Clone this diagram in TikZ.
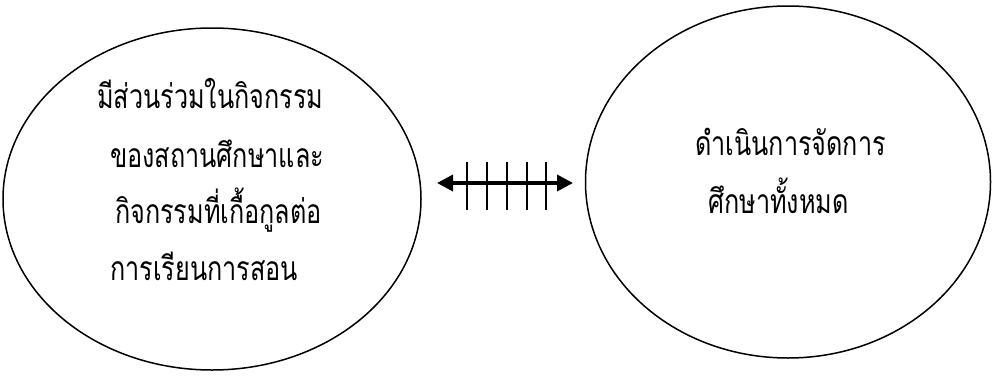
\documentclass[tikz,border=0pt]{standalone}
\usepackage{fontspec}
\newfontfamily\thaifont[Script=Thai]{Loma}
\usetikzlibrary{shapes.geometric,arrows.meta}
\newcommand{\thtxt}[1]{\scalebox{0.9}[1.2]{#1}}
\begin{document}
\begin{tikzpicture}[x=1pt,y=-1pt,
  bubble/.style={draw,ellipse,line width=1.5pt,inner sep=0pt},
  txt/.style={font=\thaifont\fontsize{28}{32}\selectfont,anchor=base west,inner sep=0pt},
  tickline/.style={line width=2pt},
  link/.style={line width=3.6pt,{Triangle[length=16pt,width=16pt]}-{Triangle[length=16pt,width=16pt]}}]
\useasboundingbox (0,0) rectangle (992,378);
\node[bubble,minimum width=418pt,minimum height=342pt] (L) at (212,199) {};
\node[bubble,minimum width=405pt,minimum height=352pt] (R) at (788,182) {};
\node[txt] (l1) at (97,108) {\thtxt{มีส่วนร่วมในกิจกรรม}};
\node[txt] (l2) at (110,167) {\thtxt{ของสถานศึกษาและ}};
\node[txt] (l3) at (115,223) {\thtxt{กิจกรรมที่เกื้อกูลต่อ}};
\node[txt] (l4) at (110,280) {\thtxt{การเรียนการสอน}};
\node[txt] (r1) at (695,155) {\thtxt{ดำเนินการจัดการ}};
\node[txt] (r2) at (708,213) {\thtxt{ศึกษาทั้งหมด}};
\coordinate (a1) at (437,183);
\coordinate (a2) at (573,183);
\draw[link] (a1) -- (a2);
\foreach \x in {467,487,507,527,546}
  \draw[tickline] (\x,162) -- (\x,210);
\end{tikzpicture}
\end{document}
